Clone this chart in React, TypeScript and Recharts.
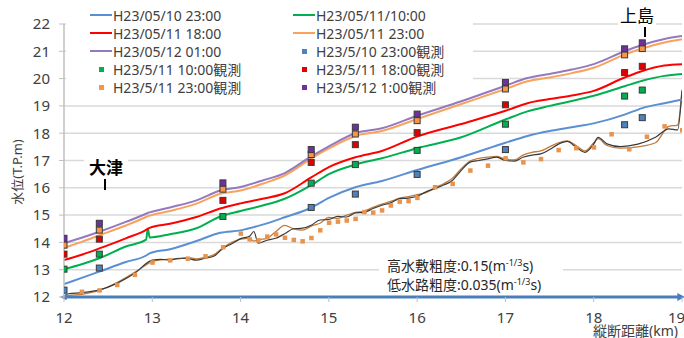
import React from 'react';
import { ComposedChart, Line, Scatter, XAxis, YAxis, CartesianGrid } from 'recharts';

const FONT = '"Noto Sans", "Noto Sans CJK JP", sans-serif';

// simulated water levels (km along river)
const simKm = [12.0, 12.2, 12.4, 12.7, 12.93, 12.95, 12.97, 13.2, 13.5, 13.77, 14.0, 14.25, 14.5, 14.8, 15.0, 15.3, 15.6, 16.0, 16.5, 17.0, 17.25, 17.5, 17.75, 18.0, 18.35, 18.55, 18.8, 19.0];
const sim0510_2300 = [12.47, 12.7, 12.93, 13.28, 13.52, 13.56, 13.6, 13.75, 14.05, 14.35, 14.44, 14.65, 14.92, 15.27, 15.63, 16.02, 16.25, 16.65, 17.12, 17.65, 17.9, 18.08, 18.22, 18.36, 18.68, 18.92, 19.1, 19.23];
const sim0511_1000 = [13.02, 13.2, 13.42, 13.85, 14.1, 14.5, 14.18, 14.3, 14.52, 14.95, 15.15, 15.35, 15.6, 16.1, 16.5, 16.85, 17.08, 17.45, 17.85, 18.5, 18.8, 19.0, 19.18, 19.37, 19.72, 19.92, 20.1, 20.17];
const sim0511_1800 = [13.35, 13.55, 13.78, 14.15, 14.46, 14.5, 14.53, 14.68, 14.93, 15.24, 15.43, 15.6, 15.8, 16.38, 16.76, 17.12, 17.35, 17.88, 18.34, 18.82, 19.1, 19.25, 19.38, 19.55, 20.04, 20.28, 20.48, 20.53];
const sim0511_2300 = [13.8, 14.02, 14.26, 14.62, 14.93, 14.96, 14.98, 15.15, 15.42, 15.78, 15.9, 16.15, 16.45, 17.07, 17.44, 17.9, 18.08, 18.52, 19.07, 19.62, 19.9, 20.04, 20.2, 20.4, 20.88, 21.1, 21.32, 21.44];
const sim0512_0100 = [13.97, 14.17, 14.39, 14.75, 15.05, 15.08, 15.1, 15.28, 15.54, 15.9, 16.03, 16.27, 16.54, 17.15, 17.52, 18.0, 18.18, 18.64, 19.17, 19.74, 20.02, 20.17, 20.33, 20.53, 21.0, 21.23, 21.45, 21.56];

// observed levels
const obsKm = [12.0, 12.4, 13.8, 14.8, 15.3, 16.0, 17.0, 18.35, 18.55];
const obs0510_2300 = [12.25, 13.06, null, 15.28, 15.77, 16.49, 17.4, 18.31, 18.57];
const obs0511_1000 = [13.02, 13.57, 14.95, 16.17, 16.85, 17.37, 18.33, 19.36, 19.58];
const obs0511_1800 = [13.57, 14.12, 15.54, 16.93, 17.58, 18.02, 19.04, 20.22, 20.45];
const obs0511_2300 = [13.9, 14.45, 15.95, 17.22, 17.97, 18.46, 19.62, 20.87, 21.1];
const obs0512_0100 = [14.15, 14.7, 16.18, 17.4, 18.22, 18.7, 19.86, 21.09, 21.31];

// river bed profiles
const bedKm = [12.0, 12.05, 12.2, 12.4, 12.6, 12.8, 13.0, 13.1, 13.2, 13.3, 13.4, 13.5, 13.6, 13.7, 13.8, 13.9, 14.0, 14.1, 14.15, 14.2, 14.3, 14.4, 14.5, 14.6, 14.7, 14.8, 14.9, 15.0, 15.1, 15.2, 15.3, 15.4, 15.5, 15.6, 15.7, 15.8, 15.9, 16.0, 16.1, 16.2, 16.3, 16.4, 16.5, 16.6, 16.7, 16.8, 16.9, 17.0, 17.1, 17.2, 17.3, 17.4, 17.5, 17.6, 17.7, 17.8, 17.9, 18.0, 18.05, 18.15, 18.3, 18.5, 18.7, 18.85, 18.95, 19.0];
const bedBlack = [12.02, 12.12, 12.16, 12.26, 12.5, 12.87, 13.35, 13.38, 13.35, 13.42, 13.41, 13.35, 13.42, 13.5, 13.78, 13.95, 14.14, 14.22, 14.4, 13.97, 14.08, 14.15, 14.32, 14.5, 14.52, 14.63, 14.82, 14.84, 14.95, 14.93, 15.08, 15.1, 15.24, 15.36, 15.45, 15.6, 15.62, 15.69, 15.85, 15.97, 16.1, 16.27, 16.64, 16.94, 17.0, 17.06, 17.12, 17.0, 16.98, 17.12, 17.2, 17.24, 17.4, 17.6, 17.7, 17.49, 17.3, 17.6, 17.85, 17.61, 17.51, 17.6, 17.85, 18.16, 18.12, 19.55];
const bedBrown = [11.98, 12.05, 12.1, 12.24, 12.53, 12.9, 13.3, 13.36, 13.38, 13.4, 13.45, 13.4, 13.45, 13.55, 13.8, 14.0, 14.12, 14.15, 14.05, 14.1, 14.15, 14.4, 14.62, 14.5, 14.45, 14.6, 14.7, 14.92, 14.88, 15.0, 15.1, 15.15, 15.28, 15.4, 15.5, 15.62, 15.68, 15.75, 15.82, 16.0, 16.15, 16.35, 16.7, 16.98, 17.08, 17.12, 17.15, 17.05, 17.02, 17.2, 17.3, 17.35, 17.5, 17.65, 17.72, 17.55, 17.35, 17.65, 17.8, 17.55, 17.45, 17.5, 17.65, 18.25, 18.3, 19.6];

const dotKm = [12.2, 12.4, 12.6, 12.8, 13.0, 13.2, 13.4, 13.6, 13.8, 14.0, 14.1, 14.2, 14.3, 14.4, 14.5, 14.6, 14.7, 14.8, 14.9, 15.0, 15.1, 15.2, 15.3, 15.4, 15.5, 15.6, 15.7, 15.8, 15.9, 16.0, 16.2, 16.4, 16.6, 16.8, 17.0, 17.2, 17.4, 17.6, 17.8, 18.0, 18.2, 18.4, 18.6, 18.8, 19.0];
const dotLevel = [12.2, 12.25, 12.45, 12.82, 13.27, 13.35, 13.41, 13.5, 13.83, 14.33, 14.12, 14.08, 14.22, 14.3, 14.18, 14.1, 14.05, 14.17, 14.45, 14.73, 14.77, 14.81, 14.87, 15.12, 15.1, 15.18, 15.36, 15.5, 15.52, 15.64, 16.03, 16.15, 16.64, 16.82, 17.09, 16.94, 17.06, 17.39, 17.46, 17.49, 17.97, 17.42, 17.88, 18.26, 18.12];

const xTicks = [12, 13, 14, 15, 16, 17, 18, 19];
const yTicks = [12, 13, 14, 15, 16, 17, 18, 19, 20, 21, 22];

const toRows = (xs: number[], ys: (number | null)[]) =>
  xs.map((x, i) => ({ x, y: ys[i] })).filter((d) => d.y !== null);

const simSeries = [
  { name: 'H23/05/10 23:00', color: '#5b8fd3', values: sim0510_2300 },
  { name: 'H23/05/11/10:00', color: '#00b050', values: sim0511_1000 },
  { name: 'H23/05/11 18:00', color: '#ff0000', values: sim0511_1800 },
  { name: 'H23/05/11 23:00', color: '#f9a25c', values: sim0511_2300 },
  { name: 'H23/05/12 01:00', color: '#9479bf', values: sim0512_0100 },
];

const obsSeries = [
  { name: 'H23/5/10 23:00観測', color: '#4f81bd', values: obs0510_2300 },
  { name: 'H23/5/11 10:00観測', color: '#00b050', values: obs0511_1000 },
  { name: 'H23/5/11 18:00観測', color: '#e00000', values: obs0511_1800 },
  { name: 'H23/5/11 23:00観測', color: '#f79646', values: obs0511_2300 },
  { name: 'H23/5/12 1:00観測', color: '#7030a0', values: obs0512_0100 },
];

const ObsSquare = (props: any) => {
  const { cx, cy, fill } = props;
  if (cx == null || cy == null) return null;
  return <rect x={cx - 3} y={cy - 3} width={6} height={6} fill={fill} stroke="#3a3a3a" strokeWidth={1} />;
};

const BedDot = (props: any) => {
  const { cx, cy } = props;
  if (cx == null || cy == null) return null;
  return <rect x={cx - 2} y={cy - 2} width={4.5} height={4.5} fill="#e8944e" />;
};

type LegendItem = { label: string; color: string; kind: 'line' | 'square' };

const legendCol1: LegendItem[] = [
  { label: 'H23/05/10 23:00', color: '#5b8fd3', kind: 'line' },
  { label: 'H23/05/11 18:00', color: '#ff0000', kind: 'line' },
  { label: 'H23/05/12 01:00', color: '#9479bf', kind: 'line' },
  { label: 'H23/5/11 10:00観測', color: '#00b050', kind: 'square' },
  { label: 'H23/5/11 23:00観測', color: '#f79646', kind: 'square' },
];
const legendCol2: LegendItem[] = [
  { label: 'H23/05/11/10:00', color: '#00b050', kind: 'line' },
  { label: 'H23/05/11 23:00', color: '#f9a25c', kind: 'line' },
  { label: 'H23/5/10 23:00観測', color: '#4f81bd', kind: 'square' },
  { label: 'H23/5/11 18:00観測', color: '#e00000', kind: 'square' },
  { label: 'H23/5/12 1:00観測', color: '#7030a0', kind: 'square' },
];

const LegendColumn = ({ items, left }: { items: LegendItem[]; left: number }) => (
  <>
    {items.map((it, i) => (
      <div key={it.label} style={{ position: 'absolute', left, top: 15 + i * 18 - 10, height: 20, display: 'flex', alignItems: 'center' }}>
        <div style={{ width: 22, display: 'flex', justifyContent: 'center' }}>
          {it.kind === 'line' ? (
            <div style={{ width: 22, height: 2, background: it.color }} />
          ) : (
            <div style={{ width: 5, height: 5, background: it.color }} />
          )}
        </div>
        <span style={{ fontSize: 14, color: '#404040', marginLeft: 1, whiteSpace: 'nowrap' }}>{it.label}</span>
      </div>
    ))}
  </>
);

const Sup = ({ children }: { children: React.ReactNode }) => (
  <span style={{ fontSize: 9, position: 'relative', top: -5 }}>{children}</span>
);

export default function App() {
  return (
    <div style={{ position: 'absolute', left: 0, top: 0, width: 684, height: 338, background: '#fff', fontFamily: FONT, overflow: 'hidden' }}>
      <ComposedChart width={684} height={338} margin={{ top: 24, right: 2, bottom: 0, left: 0 }}>
        <defs>
          <marker id="arrowEnd" viewBox="0 0 10 10" refX="6" refY="5" markerWidth="2.6" markerHeight="2.6" orient="auto">
            <path d="M0,0 L10,5 L0,10 z" fill="#4a7ebb" />
          </marker>
          <marker id="arrowStart" viewBox="0 0 10 10" refX="4" refY="5" markerWidth="2.2" markerHeight="2.2" orient="auto-start-reverse">
            <path d="M0,0 L10,5 L0,10 z" fill="#4a7ebb" />
          </marker>
        </defs>
        <CartesianGrid vertical={false} stroke="#d9d9d9" strokeWidth={1.5} />
        <XAxis
          type="number"
          dataKey="x"
          domain={[12, 19]}
          ticks={xTicks}
          allowDataOverflow
          height={41}
          tickSize={5}
          tickMargin={10}
          tick={{ fontSize: 15, fill: '#404040', fontFamily: FONT }}
          tickLine={{ stroke: '#bfbfbf' }}
          axisLine={{ stroke: '#4a7ebb', strokeWidth: 3, markerEnd: 'url(#arrowEnd)', markerStart: 'url(#arrowStart)' } as any}
        />
        <YAxis
          type="number"
          domain={[12, 22]}
          ticks={yTicks}
          allowDataOverflow
          width={64}
          tickSize={5}
          tickMargin={9}
          tick={{ fontSize: 15, fill: '#404040', fontFamily: FONT }}
          tickLine={{ stroke: '#bfbfbf' }}
          axisLine={{ stroke: '#bfbfbf', strokeWidth: 1.5 }}
        />
        <YAxis yAxisId="right" orientation="right" domain={[12, 22]} width={0} tick={false} tickLine={false} axisLine={{ stroke: '#bfbfbf', strokeWidth: 1.5 }} />

        <Line data={toRows(bedKm, bedBrown)} dataKey="y" type="monotone" stroke="#c17a3a" strokeWidth={1.3} dot={false} isAnimationActive={false} />
        <Line data={toRows(bedKm, bedBlack)} dataKey="y" type="monotone" stroke="#3a3a3a" strokeWidth={1.2} dot={false} isAnimationActive={false} />
        <Scatter data={toRows(dotKm, dotLevel)} dataKey="y" shape={<BedDot />} isAnimationActive={false} />

        {simSeries.map((s) => (
          <Line key={s.name} name={s.name} data={toRows(simKm, s.values)} dataKey="y" type="monotone" stroke={s.color} strokeWidth={2} dot={false} isAnimationActive={false} />
        ))}
        {obsSeries.map((s) => (
          <Scatter key={s.name} name={s.name} data={toRows(obsKm, s.values)} dataKey="y" fill={s.color} shape={<ObsSquare />} isAnimationActive={false} />
        ))}
      </ComposedChart>

      {/* legend box */}
      <div style={{ position: 'absolute', left: 66, top: 0, width: 407, height: 94, background: '#fff' }}>
        <LegendColumn items={legendCol1} left={90 - 66} />
        <LegendColumn items={legendCol2} left={293 - 66} />
      </div>

      {/* station labels */}
      <div style={{ position: 'absolute', left: 84, top: 155, width: 44, height: 24, background: '#fff', fontSize: 17, fontWeight: 'bold', color: '#000', textAlign: 'center', lineHeight: '26px' }}>大津</div>
      <div style={{ position: 'absolute', left: 104, top: 179, width: 1.5, height: 11, background: '#000' }} />
      <div style={{ position: 'absolute', left: 618, top: 5, width: 38, height: 22, background: '#fff', fontSize: 17, color: '#000', textAlign: 'center', lineHeight: '22px' }}>上島</div>
      <div style={{ position: 'absolute', left: 644, top: 27, width: 1.5, height: 10, background: '#000' }} />

      {/* roughness note */}
      <div style={{ position: 'absolute', left: 379, top: 252, width: 184, height: 43, background: '#fff' }} />
      <div style={{ position: 'absolute', left: 387, top: 257, fontSize: 14, color: '#262626', lineHeight: '18px', whiteSpace: 'nowrap' }}>
        高水敷粗度:0.15(m<Sup>-1/3</Sup>s)
      </div>
      <div style={{ position: 'absolute', left: 387, top: 276, fontSize: 14, color: '#262626', lineHeight: '18px', whiteSpace: 'nowrap' }}>
        低水路粗度:0.035(m<Sup>-1/3</Sup>s)
      </div>

      {/* axis titles */}
      <div style={{ position: 'absolute', left: 16, top: 172, transform: 'translate(-50%, -50%) rotate(-90deg)', fontSize: 13, color: '#404040', whiteSpace: 'nowrap' }}>水位(T.P.m)</div>
      <div style={{ position: 'absolute', left: 593, top: 322, fontSize: 14, color: '#404040', whiteSpace: 'nowrap', lineHeight: '18px' }}>縦断距離(km)</div>
    </div>
  );
}
